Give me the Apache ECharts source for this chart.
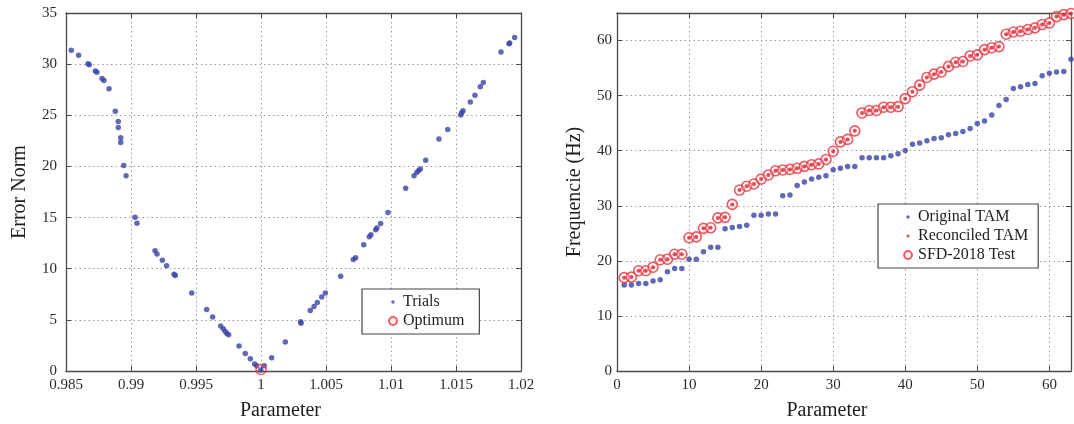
<!DOCTYPE html>
<html>
<head>
<meta charset="utf-8">
<title>Parameter sweep and frequency comparison</title>
<script src="https://cdn.jsdelivr.net/npm/echarts@6/dist/echarts.min.js"></script>
<style>
  html, body { margin: 0; padding: 0; background: #fff; }
  #chart { width: 1074px; height: 424px; }
</style>
</head>
<body>
<div id="chart"></div>
<script>
// Left panel: error norm of each trial against the parameter value
const trialParam = [
  0.98541, 0.98597, 0.98669, 0.98679, 0.98726, 0.98738, 0.98777, 0.98792, 0.98831, 0.98879,
  0.98902, 0.98902, 0.98921, 0.98921, 0.98944, 0.98962, 0.99031, 0.99046, 0.99185, 0.99200,
  0.99241, 0.99274, 0.99331, 0.99341, 0.99467, 0.99582, 0.99628, 0.99690, 0.99710, 0.99725,
  0.99738, 0.99751, 0.99831, 0.99879, 0.99918, 0.99951, 0.99967, 0.99998, 1.00025, 1.00082,
  1.00187, 1.00305, 1.00308, 1.00379, 1.00408, 1.00433, 1.00467, 1.00495, 1.00613, 1.00710,
  1.00728, 1.00790, 1.00833, 1.00846, 1.00882, 1.00892, 1.00920, 1.00977, 1.01113, 1.01177,
  1.01198, 1.01213, 1.01226, 1.01267, 1.01369, 1.01436, 1.01536, 1.01544, 1.01554, 1.01610,
  1.01646, 1.01687, 1.01710, 1.01846, 1.01908, 1.01913, 1.01951
];
const trialError = [
  31.35, 30.86, 30.05, 29.95, 29.34, 29.20, 28.60, 28.40, 27.60, 25.40,
  24.40, 23.80, 22.80, 22.35, 20.10, 19.10, 15.04, 14.45, 11.76, 11.43,
  10.82, 10.30, 9.45, 9.33, 7.63, 6.01, 5.29, 4.39, 4.12, 3.87,
  3.67, 3.54, 2.44, 1.72, 1.20, 0.68, 0.52, 0.10, 0.52, 1.30,
  2.83, 4.81, 4.68, 5.91, 6.30, 6.70, 7.24, 7.63, 9.26, 10.89,
  11.08, 12.35, 13.13, 13.32, 13.80, 13.97, 14.42, 15.50, 17.87, 19.10,
  19.40, 19.60, 19.75, 20.60, 22.68, 23.60, 25.02, 25.24, 25.44, 26.30,
  26.96, 27.78, 28.20, 31.19, 32.00, 32.07, 32.60
];
const optimumParam = [1.0];
const optimumError = [0.15];

// Right panel: natural frequencies per mode
const modeIndex = [
  1, 2, 3, 4, 5, 6, 7, 8, 9, 10, 11, 12, 13, 14, 15, 16, 17, 18, 19, 20, 21,
  22, 23, 24, 25, 26, 27, 28, 29, 30, 31, 32, 33, 34, 35, 36, 37, 38, 39, 40, 41, 42,
  43, 44, 45, 46, 47, 48, 49, 50, 51, 52, 53, 54, 55, 56, 57, 58, 59, 60, 61, 62, 63
];
const originalTam = [
  15.6, 15.6, 15.9, 15.9, 16.35, 16.55, 18.0, 18.6, 18.6, 20.3, 20.3, 21.65, 22.45, 22.45,
  25.85, 26.05, 26.25, 26.45, 28.3, 28.3, 28.5, 28.5, 31.8, 31.95, 33.7, 34.3, 34.85, 35.2,
  35.45, 36.55, 36.8, 37.15, 37.15, 38.7, 38.7, 38.7, 38.7, 39.1, 39.45, 40.05, 41.15, 41.4,
  41.8, 42.2, 42.35, 42.9, 43.1, 43.5, 44.05, 44.95, 45.4, 46.5, 48.2, 49.3, 51.3, 51.6,
  52.0, 52.2, 53.6, 54.05, 54.3, 54.4, 56.6
];
const reconciledTam = [
  16.95, 17.05, 18.2, 18.2, 18.85, 20.2, 20.3, 21.2, 21.2, 24.2, 24.35, 25.9, 26.0, 27.8,
  27.9, 30.25, 32.85, 33.55, 33.95, 34.85, 35.6, 36.35, 36.5, 36.6, 36.8, 37.15, 37.45, 37.6,
  38.4, 39.9, 41.6, 42.05, 43.6, 46.85, 47.3, 47.3, 47.9, 47.9, 48.0, 49.45, 50.7, 51.9,
  53.3, 53.9, 54.3, 55.3, 56.05, 56.2, 57.2, 57.4, 58.35, 58.7, 58.9, 61.15, 61.55, 61.7,
  62.0, 62.3, 62.9, 63.2, 64.35, 64.7, 64.9
];
const sfdTest = [
  16.95, 17.05, 18.2, 18.2, 18.85, 20.2, 20.3, 21.2, 21.2, 24.2, 24.35, 25.9, 26.0, 27.8,
  27.9, 30.25, 32.85, 33.55, 33.95, 34.85, 35.6, 36.35, 36.5, 36.6, 36.8, 37.15, 37.45, 37.6,
  38.4, 39.9, 41.6, 42.05, 43.6, 46.85, 47.3, 47.3, 47.9, 47.9, 48.0, 49.45, 50.7, 51.9,
  53.3, 53.9, 54.3, 55.3, 56.05, 56.2, 57.2, 57.4, 58.35, 58.7, 58.9, 61.15, 61.55, 61.7,
  62.0, 62.3, 62.9, 63.2, 64.35, 64.7, 64.9
];

const FONT = 'Liberation Serif';
const BLUE = '#3a43a3';
const RED = '#e8323c';
const FRAME = '#4a4a4a';
const GRIDLINE = '#9c9c9c';

// Legend icons: two empty anchor points fix the icon box at [-1,1]², so the
// visible dot or ring inside keeps a small size of its own.
function dotIcon(r) {
  return 'path://M-1,-1Z M1,1Z M0,' + (-r) + ' A' + r + ',' + r + ' 0 1 1 0,' + r +
         ' A' + r + ',' + r + ' 0 1 1 0,' + (-r) + 'Z';
}

const zip = (xs, ys) => xs.map((x, i) => [x, ys[i]]);

function mainAxis(gridIndex, pos, extra) {
  return Object.assign({
    gridIndex: gridIndex,
    type: 'value',
    position: pos,
    axisLine: { show: true, onZero: false, lineStyle: { color: FRAME, width: 1.3 } },
    axisTick: { show: true, inside: true, length: 5, lineStyle: { color: FRAME, width: 1 } },
    axisLabel: { color: '#2a2a2a', fontFamily: FONT, fontSize: 15 },
    splitLine: { show: true, lineStyle: { color: GRIDLINE, type: [1.5, 3], width: 1 } },
    nameTextStyle: { color: '#1e1e1e', fontFamily: FONT, fontSize: 20 }
  }, extra);
}
function mirrorAxis(gridIndex, pos, extra) {
  return Object.assign({
    gridIndex: gridIndex,
    type: 'value',
    position: pos,
    axisLine: { show: true, onZero: false, lineStyle: { color: FRAME, width: 1.3 } },
    axisTick: { show: true, inside: true, length: 5, lineStyle: { color: FRAME, width: 1 } },
    axisLabel: { show: false },
    splitLine: { show: false }
  }, extra);
}

const paramFmt = v => String(parseFloat(v.toFixed(3)));

const legendBase = {
  orient: 'vertical',
  itemWidth: 10, itemHeight: 10, itemGap: 3,
  backgroundColor: '#fff',
  borderColor: '#444', borderWidth: 1.2,
  textStyle: { fontFamily: FONT, fontSize: 16, lineHeight: 16, color: '#1e1e1e' }
};

const option = {
  backgroundColor: '#fff',
  animation: false,
  grid: [
    { left: 66, top: 13, width: 455, height: 358, containLabel: false, outerBoundsMode: 'none' },
    { left: 617, top: 13, width: 454, height: 358, containLabel: false, outerBoundsMode: 'none' }
  ],
  xAxis: [
    mainAxis(0, 'bottom', {
      min: 0.985, max: 1.02, interval: 0.005,
      name: 'Parameter', nameLocation: 'middle', nameGap: 30,
      nameTextStyle: { color: '#1e1e1e', fontFamily: FONT, fontSize: 20, padding: [0, 26, 0, 0] },
      axisLabel: { color: '#2a2a2a', fontFamily: FONT, fontSize: 15, margin: 7, formatter: paramFmt }
    }),
    mirrorAxis(0, 'top', { min: 0.985, max: 1.02, interval: 0.005 }),
    mainAxis(1, 'bottom', {
      min: 0, max: 63, interval: 10,
      name: 'Parameter', nameLocation: 'middle', nameGap: 30,
      nameTextStyle: { color: '#1e1e1e', fontFamily: FONT, fontSize: 20, padding: [0, 34, 0, 0] },
      axisLabel: { color: '#2a2a2a', fontFamily: FONT, fontSize: 15, margin: 7, showMaxLabel: false }
    }),
    mirrorAxis(1, 'top', { min: 0, max: 63, interval: 10 })
  ],
  yAxis: [
    mainAxis(0, 'left', {
      min: 0, max: 35, interval: 5,
      name: 'Error Norm', nameLocation: 'middle', nameGap: 36,
      axisLabel: { color: '#2a2a2a', fontFamily: FONT, fontSize: 15, margin: 9 }
    }),
    mirrorAxis(0, 'right', { min: 0, max: 35, interval: 5 }),
    mainAxis(1, 'left', {
      min: 0, max: 65, interval: 10,
      name: 'Frequencie (Hz)', nameLocation: 'middle', nameGap: 32,
      axisLabel: { color: '#2a2a2a', fontFamily: FONT, fontSize: 15, margin: 5, showMaxLabel: false }
    }),
    mirrorAxis(1, 'right', { min: 0, max: 65, interval: 10 })
  ],
  legend: [
    Object.assign({}, legendBase, {
      data: [
        { name: 'Trials', icon: dotIcon(0.34) },
        { name: 'Optimum', icon: dotIcon(0.78) }
      ],
      left: 362, top: 289,
      padding: [5, 15, 5, 25]
    }),
    Object.assign({}, legendBase, {
      data: [
        { name: 'Original TAM', icon: dotIcon(0.34) },
        { name: 'Reconciled TAM', icon: dotIcon(0.3) },
        { name: 'SFD-2018 Test', icon: dotIcon(0.78) }
      ],
      left: 878, top: 204,
      padding: [5, 10, 5, 24]
    })
  ],
  series: [
    {
      name: 'Trials', type: 'scatter', xAxisIndex: 0, yAxisIndex: 0,
      data: zip(trialParam, trialError),
      symbol: 'circle', symbolSize: 5.5,
      itemStyle: { color: BLUE }, z: 3
    },
    {
      name: 'Optimum', type: 'scatter', xAxisIndex: 0, yAxisIndex: 0,
      data: zip(optimumParam, optimumError),
      symbol: 'circle', symbolSize: 10,
      itemStyle: { color: 'rgba(255,255,255,0)', borderColor: RED, borderWidth: 1.6 }, z: 4
    },
    {
      name: 'Original TAM', type: 'scatter', xAxisIndex: 2, yAxisIndex: 2,
      data: zip(modeIndex, originalTam),
      symbol: 'circle', symbolSize: 5.5,
      itemStyle: { color: BLUE }, z: 3
    },
    {
      name: 'SFD-2018 Test', type: 'scatter', xAxisIndex: 2, yAxisIndex: 2,
      data: zip(modeIndex, sfdTest),
      symbol: 'circle', symbolSize: 10,
      itemStyle: { color: 'rgba(255,220,222,0.35)', borderColor: RED, borderWidth: 1.6 }, z: 3
    },
    {
      name: 'Reconciled TAM', type: 'scatter', xAxisIndex: 2, yAxisIndex: 2,
      data: zip(modeIndex, reconciledTam),
      symbol: 'circle', symbolSize: 4,
      itemStyle: { color: '#d8202a' }, z: 4
    }
  ]
};

const chart = echarts.init(document.getElementById('chart'), null, { renderer: 'canvas' });
chart.setOption(option);
</script>
</body>
</html>
